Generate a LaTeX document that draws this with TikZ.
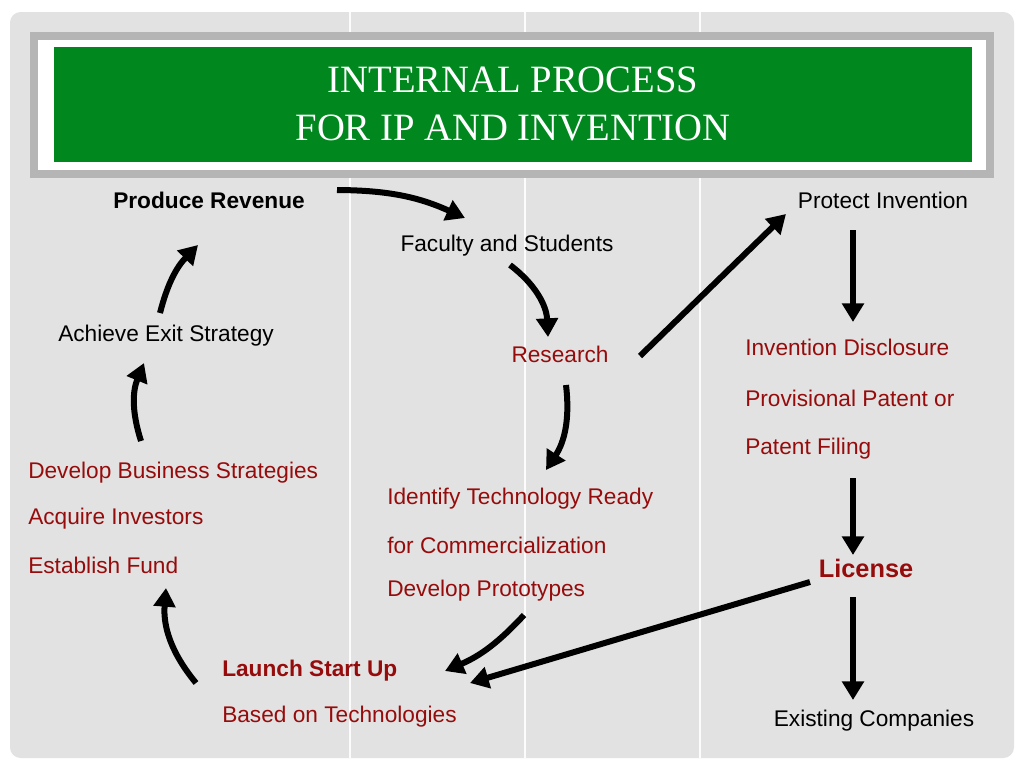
\documentclass[tikz,border=0pt]{standalone}
\usepackage{fontspec}
\setmainfont{Liberation Sans}
\newfontfamily\titlefont{Liberation Serif}
\usetikzlibrary{arrows.meta}
\definecolor{bg}{RGB}{226,226,226}
\definecolor{grn}{RGB}{0,136,30}
\definecolor{dred}{RGB}{150,12,12}
\tikzset{
 arr/.style={line width=4.5pt,-{Triangle[length=14pt,width=16pt]}},
 txt/.style={font=\fontsize{17}{20}\selectfont,inner sep=0pt},
 rtxt/.style={txt,text=dred},
}
\begin{document}
\begin{tikzpicture}[x=0.75pt,y=-0.75pt]
\useasboundingbox (0,0) rectangle (1024,768);
\fill[white] (0,0) rectangle (1024,768);
\fill[bg,rounded corners=8pt] (10,12) rectangle (1014,758);
\foreach \x in {350,525,700} \draw[white!90!bg,line width=1.5pt] (\x,12) -- (\x,758);
\fill[bg!80!black] (30,32) rectangle (994,178);
\fill[white] (38,40) rectangle (986,170);
\fill[grn] (54,47) rectangle (972,162);
\node[align=center,text=white,font=\titlefont\fontsize{29}{36}\selectfont] (title) at (513,104) {INTERNAL PROCESS\\FOR IP AND INVENTION};

\node[txt,font=\fontsize{17}{20}\selectfont\bfseries] (rev) at (209,200) {Produce Revenue};
\node[txt] (fac) at (507,246) {Faculty and Students};
\node[rtxt] (res) at (560,354) {Research};
\node[txt] (prot) at (883,200) {Protect Invention};
\node[rtxt,anchor=west] (inv) at (745,347) {Invention Disclosure};
\node[rtxt,anchor=west] (prov) at (745,398) {Provisional Patent or};
\node[rtxt,anchor=west] (pf) at (745,449) {Patent Filing};
\node[rtxt,font=\fontsize{19}{22}\selectfont\bfseries] (lic) at (866,568) {License};
\node[txt] (exist) at (874,721) {Existing Companies};
\node[rtxt,anchor=west] (id1) at (387,499) {Identify Technology Ready};
\node[rtxt,anchor=west] (id2) at (387,545) {for Commercialization};
\node[rtxt,anchor=west] (id3) at (387,591) {Develop Prototypes};
\node[rtxt,anchor=west,font=\fontsize{17}{20}\selectfont\bfseries] (ls) at (222,671) {Launch Start Up};
\node[rtxt,anchor=west] (bt) at (222,717) {Based on Technologies};
\node[rtxt,anchor=west] (db) at (28,473) {Develop Business Strategies};
\node[rtxt,anchor=west] (ai) at (28,519) {Acquire Investors};
\node[rtxt,anchor=west] (ef) at (28,565) {Establish Fund};
\node[txt] (exit) at (166,336) {Achieve Exit Strategy};

\coordinate (a1s) at (337,190); \coordinate (a1e) at (465,218);
\draw[arr] (a1s) to[bend left=12] (a1e);
\coordinate (a2s) at (510,265); \coordinate (a2e) at (548,337);
\draw[arr] (a2s) to[bend left=25] (a2e);
\coordinate (a3s) at (640,356); \coordinate (a3e) at (786,214);
\draw[arr] (a3s) -- (a3e);
\coordinate (a4s) at (853,230); \coordinate (a4e) at (853,322);
\draw[arr] (a4s) -- (a4e);
\coordinate (a5s) at (853,478); \coordinate (a5e) at (853,555);
\draw[arr] (a5s) -- (a5e);
\coordinate (a6s) at (853,597); \coordinate (a6e) at (853,700);
\draw[arr] (a6s) -- (a6e);
\coordinate (a7s) at (810,582); \coordinate (a7e) at (470,683);
\draw[arr] (a7s) -- (a7e);
\coordinate (a8s) at (566,385); \coordinate (a8e) at (546,470);
\draw[arr] (a8s) to[bend left=20] (a8e);
\coordinate (a9s) at (524,615); \coordinate (a9e) at (445,671);
\draw[arr] (a9s) to[bend left=12] (a9e);
\coordinate (a10s) at (196,683); \coordinate (a10e) at (166,588);
\draw[arr] (a10s) to[bend left=22] (a10e);
\coordinate (a11s) at (141,441); \coordinate (a11e) at (144,363);
\draw[arr] (a11s) to[bend left=20] (a11e);
\coordinate (a12s) at (160,313); \coordinate (a12e) at (198,245);
\draw[arr] (a12s) to[bend left=15] (a12e);
\end{tikzpicture}
\end{document}
